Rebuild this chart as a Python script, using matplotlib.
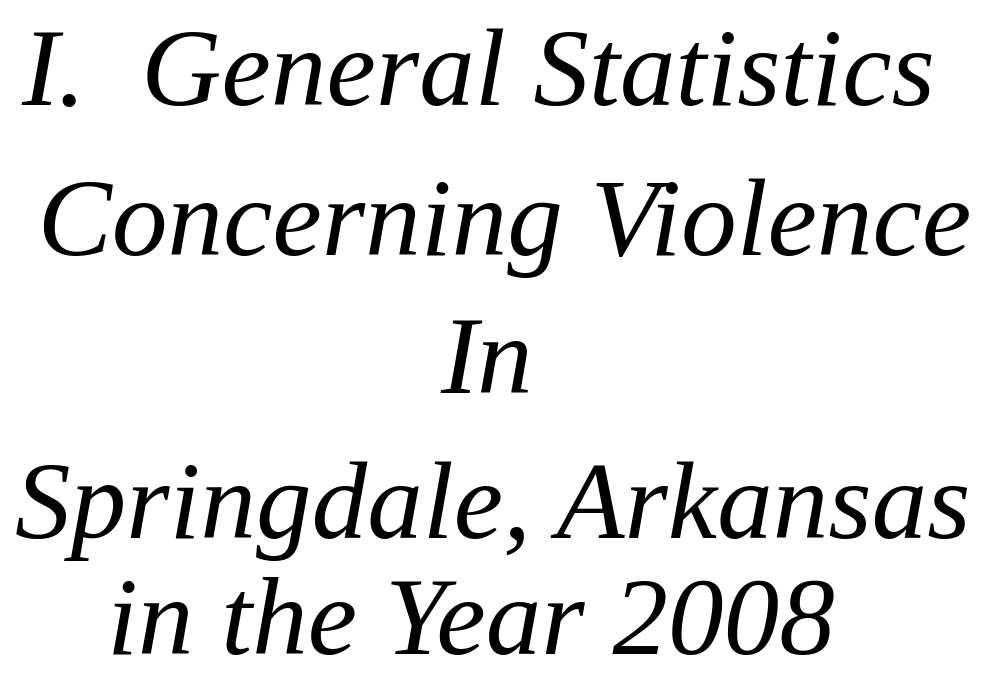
import matplotlib
matplotlib.use('Agg')
from matplotlib import pyplot as plt

# title lines as they appear on the slide
lines = ["I.  General Statistics", " Concerning Violence", "In",
         "Springdale, Arkansas", "in the Year 2008"]
ys = [0.847, 0.628, 0.426, 0.215, 0.045]   # baselines
xs = [0.022, 0.01, 0.49, 0.015, 0.108]
aligns = ['left', 'left', 'center', 'left', 'left']

fig = plt.figure(figsize=(9.94, 6.85), dpi=100)
fig.patch.set_facecolor('white')

for txt, x, y, ha in zip(lines, xs, ys, aligns):
    fig.text(x, y, txt, ha=ha, va='baseline', fontsize=80,
             family='Liberation Serif', style='italic', color='black')

plt.savefig('out.png', dpi=100, facecolor='white')
